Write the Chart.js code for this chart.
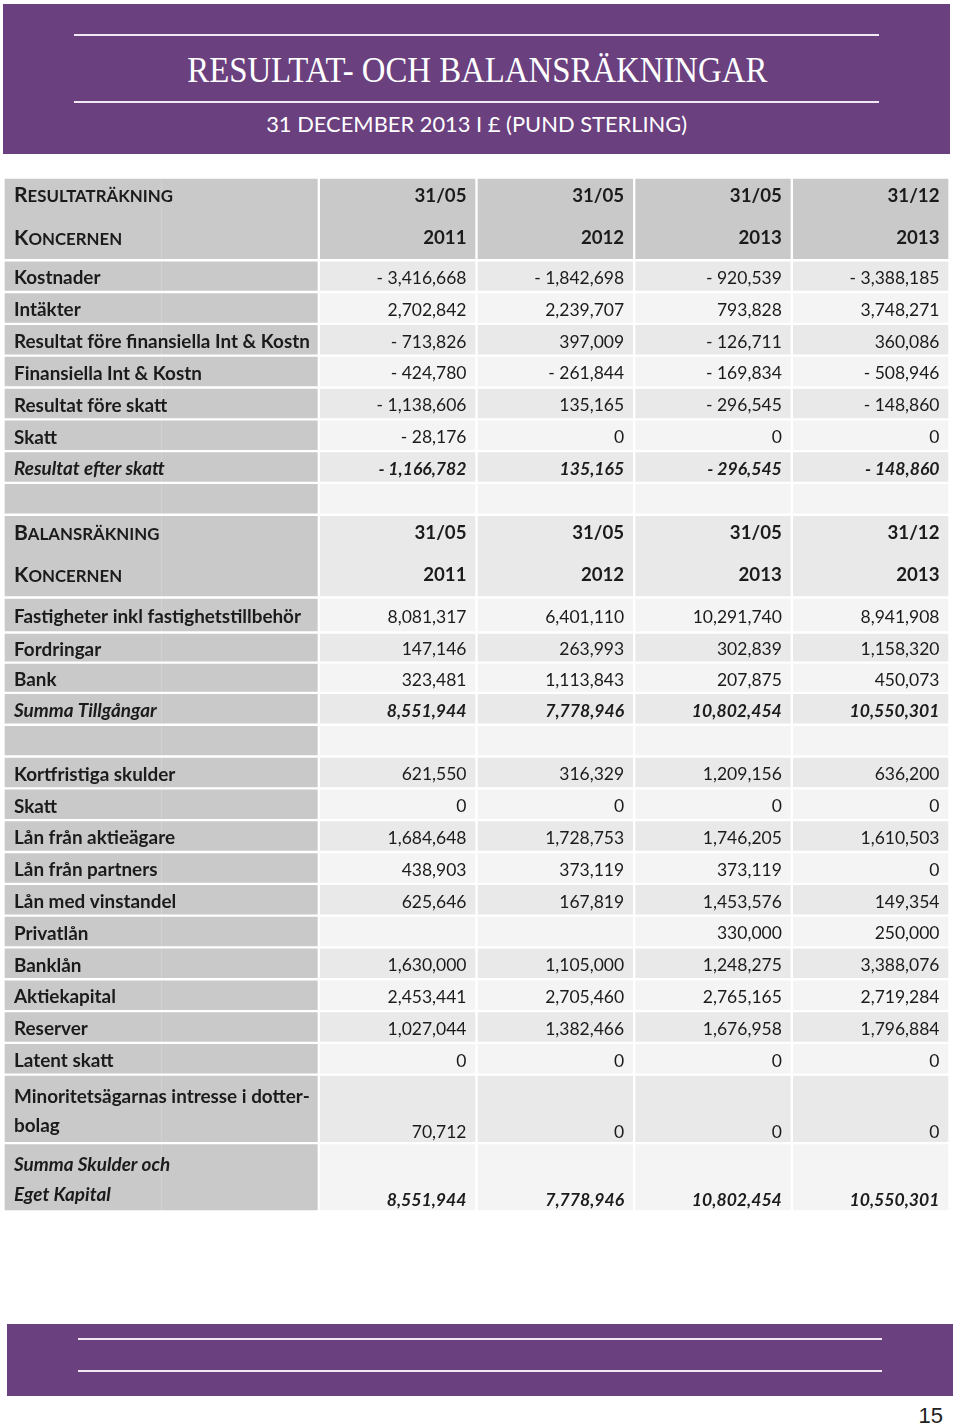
<!DOCTYPE html>
<html lang="sv">
<head>
<meta charset="utf-8">
<title>Resultat- och balansräkningar</title>
<script src="https://cdn.jsdelivr.net/npm/chart.js@4.4.1/dist/chart.umd.min.js"></script>
<style>
  html, body { margin: 0; padding: 0; background: #fff; }
  body { width: 960px; height: 1426px; position: relative; overflow: hidden; }
  .band { position: absolute; background: #6a407f; }
  .rule { position: absolute; height: 2px; background: #f1e8f6; }
  .fit { position: absolute; left: 0; width: 954px; text-align: center; color: #fff; white-space: nowrap; }
  .fit span { display: inline-block; transform-origin: 50% 50%; }
  #title { top: 52px; font: 36px/1 "Liberation Serif", serif; }
  #subtitle { top: 113px; font: 22px/1 Lato, sans-serif; }
  #page { position: absolute; right: 17px; top: 1405px; font: 22px/1 "Liberation Sans", Arial, sans-serif; color: #222; }
  #wrap { position: absolute; left: 0; top: 0; width: 960px; height: 1426px; }
</style>
</head>
<body>
<div class="band" style="left:3px;top:4px;width:947px;height:150px"></div>
<div class="rule" style="left:74px;top:34px;width:805px"></div>
<div class="rule" style="left:74px;top:101px;width:805px"></div>
<div id="title" class="fit" data-w="580"><span>RESULTAT- OCH BALANSRÄKNINGAR</span></div>
<div id="subtitle" class="fit" data-w="421"><span>31 DECEMBER 2013 I £ (PUND STERLING)</span></div>

<div class="band" style="left:7px;top:1324px;width:946px;height:72px"></div>
<div class="rule" style="left:78px;top:1338px;width:804px"></div>
<div class="rule" style="left:78px;top:1370px;width:804px"></div>
<div id="page">15</div>

<div id="wrap"><canvas id="table"></canvas></div>

<script>
// column headers (period end)
const periodDays = ['31/05', '31/05', '31/05', '31/12'];
const periodYears = ['2011', '2012', '2013', '2013'];

// Resultaträkning
const resultLabels = ['Kostnader', 'Intäkter', 'Resultat före finansiella Int & Kostn', 'Finansiella Int & Kostn', 'Resultat före skatt', 'Skatt', 'Resultat efter skatt'];
const result2011 = [-3416668, 2702842, -713826, -424780, -1138606, -28176, -1166782];
const result2012 = [-1842698, 2239707, 397009, -261844, 135165, 0, 135165];
const result2013May = [-920539, 793828, -126711, -169834, -296545, 0, -296545];
const result2013Dec = [-3388185, 3748271, 360086, -508946, -148860, 0, -148860];

// Balansräkning - tillgångar
const assetLabels = ['Fastigheter inkl fastighetstillbehör', 'Fordringar', 'Bank', 'Summa Tillgångar'];
const asset2011 = [8081317, 147146, 323481, 8551944];
const asset2012 = [6401110, 263993, 1113843, 7778946];
const asset2013May = [10291740, 302839, 207875, 10802454];
const asset2013Dec = [8941908, 1158320, 450073, 10550301];

// Balansräkning - skulder och eget kapital
const debtLabels = ['Kortfristiga skulder', 'Skatt', 'Lån från aktieägare', 'Lån från partners', 'Lån med vinstandel', 'Privatlån', 'Banklån', 'Aktiekapital', 'Reserver', 'Latent skatt', 'Minoritetsägarnas intresse i dotter-\nbolag', 'Summa Skulder och\nEget Kapital'];
const debt2011 = [621550, 0, 1684648, 438903, 625646, null, 1630000, 2453441, 1027044, 0, 70712, 8551944];
const debt2012 = [316329, 0, 1728753, 373119, 167819, null, 1105000, 2705460, 1382466, 0, 0, 7778946];
const debt2013May = [1209156, 0, 1746205, 373119, 1453576, 330000, 1248275, 2765165, 1676958, 0, 0, 10802454];
const debt2013Dec = [636200, 0, 1610503, 0, 149354, 250000, 3388076, 2719284, 1796884, 0, 0, 10550301];

// row heights in units of a normal row
const HEAD_UNITS = 2.6;
const WRAP_UNITS = 2.15;
const assetRowUnits = [1.1, 0.95, 0.95, 1];

// fit the header texts to their widths
document.querySelectorAll('.fit').forEach(el => {
    const span = el.querySelector('span');
    const w = span.getBoundingClientRect().width;
    span.style.transform = 'scaleX(' + (el.dataset.w / w) + ')';
});

// build table rows
const rows = [];
function addRows(labels, cols, units, lastIsTotal) {
    labels.forEach((label, i) => {
        rows.push({
            type: 'data',
            label: label,
            values: cols.map(c => c[i]),
            total: lastIsTotal && i === labels.length - 1,
            units: label.includes('\n') ? WRAP_UNITS : (units ? units[i] : 1)
        });
    });
}
rows.push({ type: 'head', title: 'Resultaträkning', sub: 'Koncernen', units: HEAD_UNITS, dark: true });
addRows(resultLabels, [result2011, result2012, result2013May, result2013Dec], null, true);
rows.push({ type: 'blank', units: 1 });
rows.push({ type: 'head', title: 'Balansräkning', sub: 'Koncernen', units: HEAD_UNITS });
addRows(assetLabels, [asset2011, asset2012, asset2013May, asset2013Dec], assetRowUnits, true);
rows.push({ type: 'blank', units: 1 });
addRows(debtLabels, [debt2011, debt2012, debt2013May, debt2013Dec], null, true);

const columnKeys = ['label', 'label2', 'p2011', 'p2012', 'p2013', 'p2013b'];
const cells = [];
let rowStart = 0;
rows.forEach((row, r) => {
    row.start = rowStart;
    row.stripe = r === 0 ? 0 : (r - 1) % 2;
    columnKeys.forEach((key, c) => {
        cells.push({ x: key, y: [rowStart, rowStart + row.units], row: row, col: c });
    });
    rowStart += row.units;
});
const totalUnits = rowStart;

const BORDER = 1.5;
const LABEL_GREY = '#c9c9c9';
const TEXT = '#1b1b1b';
const FONT = 'Lato, sans-serif';
const SMALL_CAPS = 0.8;

function cellColor(cell) {
    if (!cell) return LABEL_GREY;
    if (cell.col < 2 || cell.row.dark) return LABEL_GREY;
    return cell.row.stripe === 0 ? '#e9e9e9' : '#f4f4f4';
}

function cellBorder(cell) {
    if (!cell) return BORDER;
    if (cell.col === 0) return { top: BORDER, bottom: BORDER, left: BORDER, right: 0 };
    if (cell.col === 1) return { top: BORDER, bottom: BORDER, left: 0, right: BORDER };
    return BORDER;
}

function formatValue(v) {
    if (v === null || v === undefined) return '';
    const s = Math.abs(v).toLocaleString('en-US');
    return v < 0 ? '- ' + s : s;
}

// font sizes picked so the strings take the width they have in the print
const measure = document.createElement('canvas').getContext('2d');
function widthAt(text, style, size) {
    measure.font = style + ' ' + size + 'px ' + FONT;
    return measure.measureText(text).width;
}
function fitSize(text, style, width) {
    return 100 * width / widthAt(text, style, 100);
}
const labelSize = fitSize('Resultat före finansiella Int & Kostn', 'bold', 296);
const valueSize = fitSize('3,748,271', 'normal', 79);
const totalSize = fitSize('10,550,301', 'italic bold', 90);
const headSize = fitSize('31/05', 'bold', 52);
const capsSize = 100 * 159 / (widthAt('R', 'bold', 100) + widthAt('ESULTATRÄKNING', 'bold', 100 * SMALL_CAPS));

// text sits with its cap middle on y
function baseline(y, size) {
    return y + size * 0.36 + 1.5;
}

function drawText(ctx, text, x, y, style, size, align) {
    ctx.font = style + ' ' + size + 'px ' + FONT;
    ctx.textAlign = align;
    ctx.fillText(text, x, baseline(y, size));
}

function drawSmallCaps(ctx, text, x, y, size) {
    const big = text[0].toUpperCase();
    const rest = text.slice(1).toUpperCase();
    ctx.textAlign = 'left';
    ctx.font = 'bold ' + size + 'px ' + FONT;
    ctx.fillText(big, x, baseline(y, size));
    const w = ctx.measureText(big).width;
    ctx.font = 'bold ' + (size * SMALL_CAPS) + 'px ' + FONT;
    ctx.fillText(rest, x + w, baseline(y, size));
}

const tableText = {
    id: 'tableText',
    afterDatasetsDraw(chart) {
        const ctx = chart.ctx;
        const yScale = chart.scales.y;
        const bars = chart.getDatasetMeta(0).data;
        ctx.save();
        ctx.fillStyle = TEXT;
        ctx.textBaseline = 'alphabetic';
        bars.forEach((bar, i) => {
            const cell = cells[i];
            const row = cell.row;
            const left = bar.x - bar.width / 2;
            const right = bar.x + bar.width / 2;
            const at = u => yScale.getPixelForValue(row.start + u);
            if (row.type === 'head') {
                if (cell.col === 0) {
                    drawSmallCaps(ctx, row.title, left + 10.5, at(0.5), capsSize);
                    drawSmallCaps(ctx, row.sub, left + 10.5, at(1.83), capsSize);
                } else if (cell.col > 1) {
                    drawText(ctx, periodDays[cell.col - 2], right - 10, at(0.5), 'bold', headSize, 'right');
                    drawText(ctx, periodYears[cell.col - 2], right - 10, at(1.83), 'bold', headSize, 'right');
                }
            } else if (row.type === 'data') {
                const wrapped = row.units === WRAP_UNITS;
                if (cell.col === 0) {
                    const style = row.total ? 'italic bold' : 'bold';
                    const lines = row.label.split('\n');
                    if (lines.length > 1) {
                        drawText(ctx, lines[0], left + 10.5, at(0.63), style, labelSize, 'left');
                        drawText(ctx, lines[1], left + 10.5, at(1.55), style, labelSize, 'left');
                    } else {
                        drawText(ctx, lines[0], left + 10.5, at(row.units / 2), style, labelSize, 'left');
                    }
                } else if (cell.col > 1) {
                    const text = formatValue(row.values[cell.col - 2]);
                    const y = wrapped ? at(1.73) : at(row.units / 2);
                    if (row.total) drawText(ctx, text, right - 10, y, 'italic bold', totalSize, 'right');
                    else drawText(ctx, text, right - 10, y, 'normal', valueSize, 'right');
                }
            }
        });
        ctx.restore();
    }
};

new Chart(document.getElementById('table'), {
    type: 'bar',
    data: {
        labels: columnKeys,
        datasets: [{
            data: cells,
            backgroundColor: c => cellColor(c.raw),
            borderColor: '#ffffff',
            borderWidth: c => cellBorder(c.raw),
            borderSkipped: false,
            categoryPercentage: 1,
            barPercentage: 1
        }]
    },
    options: {
        responsive: true,
        maintainAspectRatio: false,
        animation: false,
        events: [],
        layout: { padding: { left: 3.5, right: 10.5, top: 177.5, bottom: 214.5 } },
        scales: {
            x: { type: 'category', display: false, offset: true },
            y: { type: 'linear', display: false, reverse: true, min: 0, max: totalUnits }
        },
        plugins: {
            legend: { display: false },
            tooltip: { enabled: false }
        }
    },
    plugins: [tableText]
});
</script>
</body>
</html>
